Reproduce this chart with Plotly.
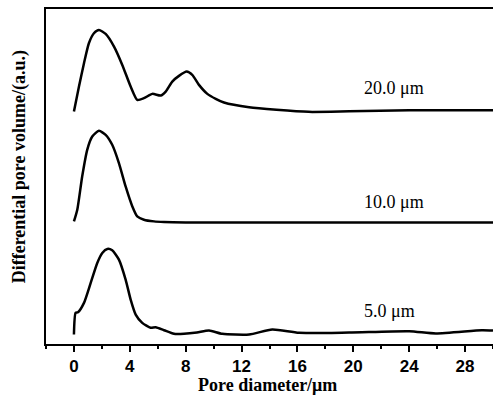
import plotly.graph_objects as go

# Pore diameter (um) and differential pore volume (a.u., stacked offsets included)
x_20 = [0, 0.36, 0.72, 1.07, 1.43, 1.79, 2.27, 2.87, 3.46, 4.06, 4.53, 5.01, 5.61, 6.21,
        6.57, 7.04, 7.52, 8.07, 8.47, 8.95, 9.55, 10.15, 10.74, 12.54, 14.5, 16.8, 19.7, 24.0, 30]
y_20 = [232.8, 257.8, 281.2, 301.2, 311.2, 314.5, 310.5, 297.8, 279.5, 257.8, 244.5, 246.2,
        250.5, 248.8, 252.8, 262.8, 268.5, 272.8, 269.5, 259.5, 250.5, 245.5, 241.8, 237.0,
        234.5, 232.5, 233.0, 234.0, 234.0]

x_10 = [0, 0.24, 0.59, 0.95, 1.31, 1.79, 2.27, 2.74, 3.22, 3.70, 4.18, 4.53, 5.01, 5.73,
        6.45, 8, 12, 20, 30]
y_10 = [122.8, 134.5, 167.8, 194.5, 207.8, 213.5, 209.5, 199.5, 181.2, 157.8, 137.8, 127.8,
        124.5, 122.8, 122.2, 121.8, 121.8, 121.8, 121.8]

x_5 = [0, 0.12, 0.29, 0.72, 1.2, 1.67, 2.03, 2.39, 2.74, 3.22, 3.70, 4.06, 4.42, 4.89, 5.49,
       5.85, 6.45, 7.16, 7.88, 8.8, 9.67, 10.62, 12.54, 14.2, 16.12, 19.7, 24.0, 25.9, 29.2, 30]
y_5 = [9.5, 31.2, 31.8, 41.2, 61.2, 81.2, 91.2, 95.2, 93.8, 84.5, 64.5, 44.5, 29.5, 21.2,
       16.2, 16.8, 13.8, 10.2, 10.2, 11.5, 13.5, 10.2, 9.5, 14.5, 11.2, 11.5, 12.8, 10.5,
       13.8, 13.5]

labels = ["20.0 μm", "10.0 μm", "5.0 μm"]
label_x = [22.9, 22.9, 22.6]
label_y = [256.5, 142.0, 32.8]

x_ticks = [0, 4, 8, 12, 16, 20, 24, 28]

fig = go.Figure()
for xs, ys in [(x_20, y_20), (x_10, y_10), (x_5, y_5)]:
    fig.add_trace(go.Scatter(x=xs, y=ys, mode="lines",
                             line=dict(color="black", width=2.5, shape="spline", smoothing=0.6),
                             showlegend=False, hoverinfo="skip"))

for t, lx, ly in zip(labels, label_x, label_y):
    fig.add_annotation(x=lx, y=ly, text=t, showarrow=False,
                       font=dict(family="Liberation Serif", size=18, color="black"))

fig.add_annotation(xref="paper", yref="paper", x=-0.06, y=0.528,
                   text="<b>Differential pore volume/(a.u.)</b>",
                   textangle=-90, showarrow=False, xanchor="center", yanchor="middle",
                   font=dict(family="Liberation Serif", size=18, color="black"))
fig.add_annotation(xref="paper", yref="paper", x=0.496, y=-0.122,
                   text="<b>Pore diameter/μm</b>",
                   showarrow=False, xanchor="center", yanchor="middle",
                   font=dict(family="Liberation Serif", size=18, color="black"))

fig.update_layout(
    width=493, height=398,
    margin=dict(l=46, r=0, t=9, b=54),
    paper_bgcolor="white", plot_bgcolor="white",
    xaxis=dict(range=[-2, 30], tickvals=x_ticks, ticktext=[str(v) for v in x_ticks],
               ticks="outside", ticklen=6, tickwidth=2, tickcolor="black",
               minor=dict(dtick=2, tick0=0, ticks="outside", ticklen=3, tickwidth=1.5, tickcolor="black"),
               showline=True, linewidth=2, linecolor="black", mirror=True,
               showgrid=False, zeroline=False, automargin=False,
               tickfont=dict(family="Liberation Sans", size=17, color="black", weight="bold")),
    yaxis=dict(range=[0, 335.5], showticklabels=False, ticks="",
               showline=True, linewidth=2, linecolor="black", mirror=False,
               showgrid=False, zeroline=False, automargin=False),
)

fig.write_html("out.html", config={"displayModeBar": False},
               post_script="document.body.style.margin='0';document.body.style.overflow='hidden';")
